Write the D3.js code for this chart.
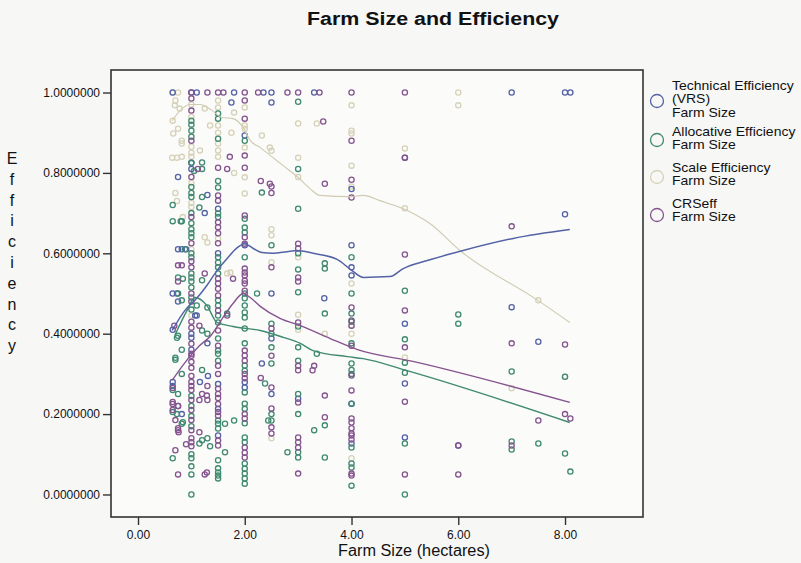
<!DOCTYPE html>
<html>
<head>
<meta charset="utf-8">
<script src="https://cdn.jsdelivr.net/npm/d3@7/dist/d3.min.js"></script>
<style>
  html, body { margin: 0; padding: 0; background: #f7f7f6; }
  svg { display: block; font-family: "Liberation Sans", Arial, sans-serif; }
</style>
</head>
<body>
<svg id="chart" width="801" height="563"></svg>
<script>
// Farm size (hectares) and efficiency score, one [size, score] pair per farm
const technicalPoints = [
  [0.65,1.0],[1.1,1.0],[1.75,0.975],[1.8,1.0],[2.35,1.0],[2.5,1.0],[2.5,0.975],[3.3,1.0],[7.0,1.0],[8.0,1.0],[8.1,1.0],[1.0,1.0],
  [0.75,0.79],[1.3,0.745],[1.25,0.70],[1.5,0.711],[1.0,0.825],[1.0,0.81],[2.0,0.893],[4.0,0.76],[5.0,0.838],[8.0,0.697],
  [0.75,0.61],[0.82,0.61],[0.9,0.61],[0.65,0.50],[0.73,0.50],[0.75,0.48],[0.65,0.41],[1.07,0.445],[1.1,0.445],[1.3,0.376],
  [1.0,0.40],[1.0,0.39],[1.0,0.36],[0.65,0.28],[0.65,0.27],[0.75,0.22],[0.82,0.20],[1.16,0.28],[1.31,0.295],
  [1.5,0.275],[1.5,0.213],[1.5,0.147],[2.0,0.279],[2.0,0.266],[2.32,0.326],[2.5,0.50],[2.5,0.388],[2.5,0.25],
  [3.0,0.238],[3.49,0.488],[4.0,0.62],[4.0,0.565],[4.0,0.545],[4.0,0.226],[4.0,0.127],[5.0,0.425],[5.0,0.276],[5.0,0.142],
  [6.0,0.122],[7.0,0.466],[7.5,0.38],[1.5,0.60],[2.0,0.62]
];
const allocativePoints = [
  [0.65,0.72],[0.65,0.68],[0.82,0.68],[0.8,0.68],[0.88,0.61],[0.75,0.54],[0.84,0.537],[0.75,0.50],[0.82,0.483],[0.73,0.39],
  [0.82,0.36],[0.7,0.34],[0.75,0.395],[0.65,0.26],[0.82,0.176],[0.65,0.09],[0.65,0.205],[0.7,0.335],[0.82,0.30],[0.75,0.25],
  [0.84,0.18],[0.73,0.20],
  [1.0,0.93],[1.0,0.92],[1.0,0.905],[1.0,0.89],[1.0,0.825],[1.0,0.765],[1.0,0.75],[1.0,0.74],[1.0,0.70],[1.0,0.675],
  [1.0,0.66],[1.0,0.65],[1.0,0.64],[1.0,0.60],[1.0,0.59],[1.0,0.55],[1.0,0.54],[1.0,0.53],[1.0,0.515],[1.0,0.49],
  [1.0,0.46],[1.0,0.245],[1.0,0.22],[1.0,0.195],[1.0,0.17],[1.0,0.10],[1.0,0.09],[1.0,0.07],[1.0,0.05],[1.0,0.0],
  [1.2,0.826],[1.2,0.81],[1.05,0.805],[1.2,0.74],[1.15,0.714],[1.2,0.533],[1.1,0.47],[1.3,0.465],[1.2,0.408],[1.3,0.40],
  [1.2,0.31],[1.2,0.135],[1.3,0.14],[1.35,0.12],[1.15,0.127],
  [1.5,0.948],[1.5,0.935],[1.5,0.885],[1.5,0.78],[1.5,0.764],[1.5,0.699],[1.5,0.69],[1.5,0.59],[1.5,0.577],[1.5,0.565],
  [1.5,0.55],[1.5,0.483],[1.5,0.47],[1.5,0.445],[1.5,0.428],[1.5,0.388],[1.5,0.358],[1.5,0.35],[1.5,0.333],[1.5,0.184],
  [1.5,0.176],[1.5,0.164],[1.5,0.085],[1.5,0.065],[1.5,0.055],[1.5,0.047],[1.5,0.04],
  [1.67,0.45],[1.8,0.184],[1.63,0.176],[1.63,0.105],
  [2.0,0.88],[2.0,0.686],[2.0,0.664],[2.0,0.652],[2.0,0.59],[2.0,0.5],[2.0,0.488],[2.0,0.47],[2.0,0.453],[2.0,0.44],
  [2.0,0.413],[2.0,0.376],[2.0,0.321],[2.0,0.308],[2.0,0.254],[2.0,0.226],[2.0,0.213],[2.0,0.177],[2.0,0.142],[2.0,0.13],
  [2.0,0.077],[2.0,0.064],[2.0,0.052],[2.0,0.04],[2.0,0.027],
  [2.23,0.5],[2.38,0.276],[2.44,0.184],[2.32,0.751],[2.5,0.62],[2.5,0.425],[2.5,0.40],[2.5,0.366],[2.5,0.326],[2.5,0.2],[2.5,0.184],
  [3.0,0.977],[3.0,0.81],[3.0,0.711],[3.0,0.60],[3.0,0.56],[3.0,0.503],[3.0,0.418],[3.0,0.366],[3.0,0.333],[3.0,0.25],
  [3.0,0.2],[3.0,0.105],[3.0,0.092],[2.8,0.105],
  [3.5,0.575],[3.5,0.562],[3.5,0.45],[3.35,0.35],[3.5,0.172],[3.3,0.16],[3.5,0.092],
  [4.0,0.59],[4.0,0.5],[4.0,0.45],[4.0,0.43],[4.0,0.376],[4.0,0.326],[4.0,0.31],[4.0,0.30],[4.0,0.226],[4.0,0.117],
  [4.0,0.077],[4.0,0.067],[4.0,0.022],
  [5.0,0.507],[5.0,0.386],[5.0,0.328],[5.0,0.303],[5.0,0.127],[5.0,0.0],
  [6.0,0.448],[6.0,0.425],[7.0,0.306],[7.0,0.132],[7.0,0.112],[7.5,0.127],[8.0,0.293],[8.0,0.102],[8.1,0.057]
];
const scalePoints = [
  [0.65,1.0],[0.75,1.0],[0.7,0.98],[0.69,0.968],[0.78,0.96],[0.65,0.93],[0.75,0.91],[0.66,0.898],[0.82,0.88],[0.82,0.873],
  [0.64,0.838],[0.73,0.838],[0.82,0.84],[0.73,0.73],[0.84,0.69],[0.7,0.75],
  [1.0,1.0],[1.0,0.97],[1.0,0.94],[1.0,0.865],[1.0,0.85],[1.0,0.84],[1.0,0.775],[1.0,0.725],[1.0,0.715],[1.0,0.61],[1.0,0.445],
  [1.25,0.64],[1.3,0.627],[1.35,0.918],[1.16,0.856],[1.25,0.96],
  [1.5,0.98],[1.5,0.963],[1.5,0.918],[1.5,0.90],[1.5,0.873],[1.5,0.856],[1.5,0.84],[1.5,0.637],[1.5,0.275],
  [1.73,0.552],[1.8,0.95],[1.75,0.9],[1.8,0.8],[1.67,0.55],
  [2.0,0.963],[2.0,0.918],[2.0,0.91],[2.0,0.863],[2.0,0.789],[2.0,0.749],
  [2.32,0.893],[2.47,0.863],[2.5,0.855],[2.5,0.66],[2.5,0.645],[2.5,0.578],[2.5,0.14],
  [3.0,0.923],[3.0,0.838],[3.0,0.79],[3.0,0.59],[3.0,0.447],[3.0,0.41],[3.35,0.923],[3.5,0.40],
  [4.0,0.968],[4.0,0.905],[4.0,0.898],[4.0,0.818],[4.0,0.766],[4.0,0.525],[4.0,0.42],[4.0,0.40],[4.0,0.09],
  [5.0,0.861],[5.0,0.712],[5.0,0.341],[6.0,1.0],[6.0,0.968],[7.0,0.264],[7.5,0.483],[8.0,0.293]
];
const crsPoints = [
  [1.0,1.0],[1.3,1.0],[1.5,1.0],[1.6,1.0],[2.0,1.0],[2.25,1.0],[2.8,1.0],[3.0,1.0],[3.4,1.0],[4.0,1.0],[5.0,1.0],
  [0.75,0.57],[0.82,0.57],[0.75,0.53],[0.68,0.42],[0.65,0.23],[0.65,0.21],[0.75,0.16],[0.76,0.155],[0.7,0.11],[0.75,0.05],
  [0.65,0.265],[0.65,0.225],[0.75,0.22],[0.7,0.185],[0.75,0.165],[0.9,0.125],
  [1.0,0.985],[1.0,0.955],[1.0,0.88],[1.0,0.79],[1.0,0.69],[1.0,0.625],[1.0,0.58],[1.0,0.565],[1.0,0.50],[1.0,0.48],
  [1.0,0.43],[1.0,0.415],[1.0,0.375],[1.0,0.35],[1.0,0.345],[1.0,0.33],[1.0,0.315],[1.0,0.295],[1.0,0.28],[1.0,0.27],
  [1.0,0.26],[1.0,0.235],[1.0,0.21],[1.0,0.185],[1.0,0.16],[1.0,0.14],[1.0,0.13],[1.0,0.12],
  [1.15,0.42],[1.25,0.55],[1.3,0.27],[1.2,0.25],[1.15,0.235],[1.3,0.235],[1.15,0.155],[1.25,0.05],[1.12,0.81],[1.29,0.246],
  [1.5,0.813],[1.5,0.744],[1.5,0.731],[1.5,0.677],[1.5,0.665],[1.5,0.65],[1.5,0.625],[1.5,0.537],[1.5,0.525],[1.5,0.512],
  [1.5,0.495],[1.5,0.458],[1.5,0.408],[1.5,0.37],[1.5,0.32],[1.5,0.30],[1.5,0.263],[1.5,0.25],[1.5,0.24],[1.5,0.225],
  [1.5,0.205],[1.5,0.196],[1.5,0.134],[1.5,0.122],
  [1.78,0.537],[1.72,0.84],[1.67,0.81],[1.67,0.445],[1.29,0.055],
  [2.0,0.98],[2.0,0.935],[2.0,0.843],[2.0,0.813],[2.0,0.694],[2.0,0.64],[2.0,0.624],[2.0,0.562],[2.0,0.552],[2.0,0.545],
  [2.0,0.532],[2.0,0.525],[2.0,0.507],[2.0,0.358],[2.0,0.346],[2.0,0.333],[2.0,0.30],[2.0,0.289],[2.0,0.2],[2.0,0.189],
  [2.0,0.117],[2.0,0.104],[2.0,0.092],
  [2.3,0.78],[2.5,0.766],[2.5,0.75],[2.47,0.773],[2.5,0.565],[2.5,0.413],[2.5,0.345],[2.3,0.29],[2.5,0.266],[2.5,0.214],
  [2.5,0.167],[2.5,0.152],
  [3.0,0.624],[3.0,0.612],[3.0,0.54],[3.0,0.53],[3.0,0.428],[3.0,0.32],[3.0,0.309],[3.0,0.229],[3.0,0.142],[3.0,0.13],
  [3.0,0.117],[3.0,0.052],
  [3.47,0.928],[3.5,0.773],[3.3,0.32],[3.27,0.309],[3.5,0.246],[3.5,0.192],
  [4.0,0.88],[4.0,0.783],[4.0,0.739],[4.0,0.465],[4.0,0.433],[4.0,0.42],[4.0,0.37],[4.0,0.296],[4.0,0.259],[4.0,0.189],
  [4.0,0.179],[4.0,0.165],[4.0,0.152],[4.0,0.147],[4.0,0.137],[4.0,0.052],[4.0,0.047],
  [5.0,0.838],[5.0,0.597],[5.0,0.458],[5.0,0.366],[5.0,0.231],[5.0,0.05],
  [6.0,0.122],[6.0,0.05],[7.0,0.667],[7.0,0.376],[7.0,0.122],[7.5,0.184],[8.0,0.373],[8.0,0.2],[8.1,0.189]
];

// Smoothed (loess) fit for each measure, as [size, score]
const technicalFit = [
  [0.64,0.408],[0.88,0.458],[1.1,0.488],[1.29,0.52],[1.48,0.557],[1.67,0.587],[1.86,0.614],[2.0,0.624],[2.16,0.612],
  [2.32,0.602],[2.53,0.60],[2.79,0.604],[2.98,0.607],[3.28,0.60],[3.73,0.585],[4.01,0.557],[4.22,0.54],[4.72,0.542],
  [4.97,0.562],[5.42,0.582],[6.09,0.607],[7.03,0.637],[8.09,0.659]
];
const allocativeFit = [
  [0.69,0.396],[0.9,0.453],[1.07,0.49],[1.29,0.47],[1.48,0.428],[1.78,0.418],[2.29,0.408],[2.72,0.391],[3.04,0.376],
  [3.28,0.358],[3.92,0.343],[4.22,0.338],[5.04,0.308],[8.09,0.179]
];
const scaleFit = [
  [0.64,0.93],[0.79,0.955],[0.97,0.97],[1.16,0.97],[1.39,0.955],[1.57,0.938],[1.78,0.935],[1.97,0.913],[2.1,0.881],
  [2.29,0.863],[2.53,0.838],[2.72,0.818],[2.98,0.791],[3.22,0.761],[3.41,0.744],[3.97,0.741],[4.22,0.744],[4.53,0.731],
  [4.97,0.711],[5.47,0.674],[6.03,0.607],[7.49,0.483],[8.09,0.428]
];
const crsFit = [
  [0.64,0.284],[0.88,0.328],[1.16,0.371],[1.35,0.393],[1.59,0.44],[1.78,0.475],[1.97,0.50],[2.1,0.49],[2.29,0.468],
  [2.66,0.438],[3.04,0.42],[3.6,0.388],[4.1,0.361],[5.15,0.331],[8.09,0.229]
];

const xTicks = [0, 2, 4, 6, 8];
const yTicks = [0, 0.2, 0.4, 0.6, 0.8, 1.0];
const legendLabels = [
  ["Technical Efficiency", "(VRS)", "Farm Size"],
  ["Allocative Efficiency", "Farm Size"],
  ["Scale Efficiency", "Farm Size"],
  ["CRSeff", "Farm Size"]
];

const colors = { te: "#5462a6", ae: "#3f8a70", se: "#d6d2b8", crs: "#85548f" };

const svg = d3.select("#chart");
const frame = { left: 111, right: 643, top: 70, bottom: 517 };

const x = d3.scaleLinear().domain([-0.506, 9.461]).range([frame.left, frame.right]);
const y = d3.scaleLinear().domain([-0.056, 1.056]).range([frame.bottom, frame.top]);

// Title
svg.append("text")
  .attr("x", 433).attr("y", 25)
  .attr("text-anchor", "middle")
  .attr("font-size", 18).attr("font-weight", "bold")
  .attr("textLength", 252).attr("lengthAdjust", "spacingAndGlyphs")
  .attr("fill", "#111")
  .text("Farm Size and Efficiency");

// Plot frame
svg.append("rect")
  .attr("x", frame.left).attr("y", frame.top)
  .attr("width", frame.right - frame.left).attr("height", frame.bottom - frame.top)
  .attr("fill", "#fbfbfa").attr("stroke", "#333").attr("stroke-width", 1.6);

// Axes
const yAxis = d3.axisLeft(y).tickValues(yTicks).tickFormat(d3.format(".7f")).tickSize(8).tickSizeOuter(0);
const gy = svg.append("g").attr("transform", `translate(${frame.left},0)`).call(yAxis);
gy.select(".domain").remove();
gy.selectAll(".tick line").attr("stroke", "#333").attr("stroke-width", 1.4);
gy.selectAll(".tick text").attr("font-size", 12).attr("fill", "#111").attr("x", -11)
  .attr("font-family", "'Liberation Sans', Arial, sans-serif");

const xAxis = d3.axisBottom(x).tickValues(xTicks).tickFormat(d3.format(".2f")).tickSize(8).tickSizeOuter(0);
const gx = svg.append("g").attr("transform", `translate(0,${frame.bottom})`).call(xAxis);
gx.select(".domain").remove();
gx.selectAll(".tick line").attr("stroke", "#333").attr("stroke-width", 1.4);
gx.selectAll(".tick text").attr("font-size", 12).attr("fill", "#111").attr("y", 13)
  .attr("font-family", "'Liberation Sans', Arial, sans-serif");

// Axis titles
svg.append("text")
  .attr("x", 414).attr("y", 556)
  .attr("text-anchor", "middle").attr("font-size", 16).attr("fill", "#111")
  .attr("textLength", 152).attr("lengthAdjust", "spacingAndGlyphs")
  .text("Farm Size (hectares)");

const yLabel = "Efficiency".split("");
svg.append("g").selectAll("text").data(yLabel).join("text")
  .attr("x", 12)
  .attr("y", (d, i) => 164 + i * 20.8)
  .attr("text-anchor", "middle").attr("font-size", 16).attr("fill", "#111")
  .text(d => d);

// Points
const plot = svg.append("g");
const series = [
  { pts: scalePoints, color: colors.se },
  { pts: technicalPoints, color: colors.te },
  { pts: allocativePoints, color: colors.ae },
  { pts: crsPoints, color: colors.crs }
];
series.forEach(s => {
  plot.append("g").selectAll("circle").data(s.pts).join("circle")
    .attr("cx", d => x(d[0])).attr("cy", d => y(d[1]))
    .attr("r", 2.6).attr("fill", "none")
    .attr("stroke", s.color).attr("stroke-width", 1.3);
});

// Fit lines
const line = d3.line().x(d => x(d[0])).y(d => y(d[1])).curve(d3.curveMonotoneX);
[
  { pts: scaleFit, color: "#cfcab0", w: 1.1 },
  { pts: allocativeFit, color: colors.ae, w: 1.4 },
  { pts: crsFit, color: colors.crs, w: 1.4 },
  { pts: technicalFit, color: colors.te, w: 1.5 }
].forEach(f => {
  plot.append("path").datum(f.pts)
    .attr("d", line).attr("fill", "none")
    .attr("stroke", f.color).attr("stroke-width", f.w);
});

// Legend
const legendColors = [colors.te, colors.ae, colors.se, colors.crs];
const legendCircleY = [101, 140, 177, 215];
const legendTextTop = [90, 136, 172, 208];
const legend = svg.append("g");
legendLabels.forEach((lines, i) => {
  legend.append("circle")
    .attr("cx", 657).attr("cy", legendCircleY[i]).attr("r", 6.5)
    .attr("fill", "none").attr("stroke", legendColors[i]).attr("stroke-width", 1.3);
  lines.forEach((t, j) => {
    legend.append("text")
      .attr("x", 672).attr("y", legendTextTop[i] + j * 13.5)
      .attr("font-size", 12.5).attr("fill", "#111")
      .attr("transform", `translate(672,0) scale(1.12,1) translate(-672,0)`)
      .text(t);
  });
});
</script>
</body>
</html>
